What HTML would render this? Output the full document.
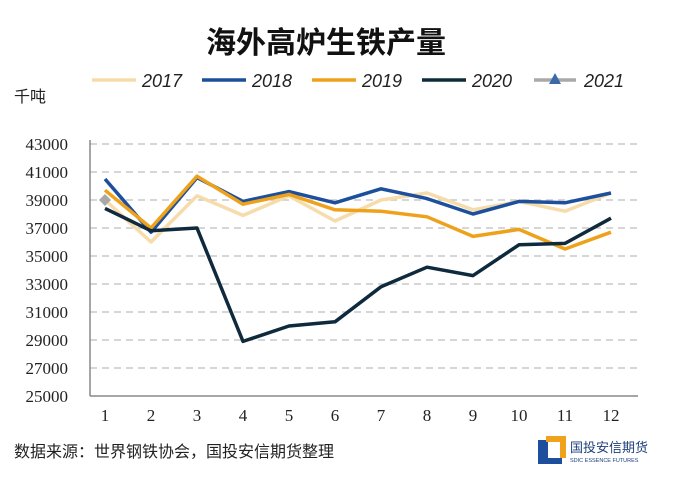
<!DOCTYPE html>
<html><head><meta charset="utf-8"><style>
body{margin:0;background:#fff;width:674px;height:479px;overflow:hidden;font-family:"Liberation Sans","Noto Sans CJK SC",sans-serif}
</style></head><body>
<svg width="674" height="479" xmlns="http://www.w3.org/2000/svg">
<text x="326" y="53" text-anchor="middle" font-size="30" font-weight="bold" font-family="Noto Sans CJK SC, sans-serif" fill="#111">海外高炉生铁产量</text>
<text x="14" y="102" font-size="16" font-family="Noto Sans CJK SC, sans-serif" fill="#222">千吨</text>
<g id="legend"></g>
<g id="grid"></g>
<g id="series"></g>
<text x="14" y="457" font-size="16" font-family="Noto Sans CJK SC, sans-serif" fill="#222">数据来源：世界钢铁协会，国投安信期货整理</text>
<g>
<path d="M538 440 h10 v18 h14 v6 h-24z" fill="#1d4f9c"/>
<path d="M546 436 h20 v22 h-6 v-16 h-14z" fill="#f0a21a"/>
<text x="570" y="452" font-size="13" font-family="Noto Sans CJK SC, sans-serif" fill="#1d3f7c">国投安信期货</text>
<text x="570" y="462" font-size="5.5" fill="#1d3f7c">SDIC ESSENCE FUTURES</text>
</g>
</svg>
<script>
const months=["1","2","3","4","5","6","7","8","9","10","11","12"];
const yTicks=[25000,27000,29000,31000,33000,35000,37000,39000,41000,43000];
const s2017=[39000,36000,39300,37900,39300,37500,39000,39500,38300,38900,38200,39500];
const s2018=[40500,36700,40600,38900,39600,38800,39800,39100,38000,38900,38800,39500];
const s2019=[39700,37000,40700,38700,39400,38300,38200,37800,36400,36900,35500,36700];
const s2020=[38400,36800,37000,28900,30000,30300,32800,34200,33600,35800,35900,37700];
const s2021=[39000];
const NS="http://www.w3.org/2000/svg";
const xs=i=>105+i*46;
const ys=v=>396-(v-25000)*0.014;
function mk(t,a,p){const e=document.createElementNS(NS,t);for(const k in a)e.setAttribute(k,a[k]);p.appendChild(e);return e;}
const grid=document.getElementById('grid');
yTicks.forEach(v=>{
  if(v>25000){const l=mk('line',{x1:90,x2:638,y1:ys(v),y2:ys(v),stroke:'#c8c8c8','stroke-width':1.5,'stroke-dasharray':'7,5'},grid);
  
  }
  const t=mk('text',{x:68,y:ys(v)+6,'text-anchor':'end','font-size':17,'font-family':'Liberation Serif, serif',fill:'#222'},grid);t.textContent=v;
  
  
});
const ya=mk('line',{x1:90,x2:90,y1:140,y2:396,stroke:'#888','stroke-width':1.5},grid);


const xa=mk('line',{x1:90,x2:638,y1:396,y2:396,stroke:'#888','stroke-width':1.5},grid);


months.forEach((m,i)=>{const t=mk('text',{x:xs(i),y:421,'text-anchor':'middle','font-size':17,'font-family':'Liberation Serif, serif',fill:'#222'},grid);t.textContent=m;
  
  });
const ser=document.getElementById('series');
const defs=[[s2017,'#f5dcaa','series-2017'],[s2018,'#1c4f9c','series-2018'],[s2019,'#eea21b','series-2019'],[s2020,'#0e2a3c','series-2020']];
defs.forEach(([d,c,n])=>{const p=mk('polyline',{points:d.map((v,i)=>xs(i)+','+ys(v)).join(' '),fill:'none',stroke:c,'stroke-width':3.5,'stroke-linejoin':'round'},ser);
  
  });
s2021.forEach((v,i)=>{const x=xs(i),y=ys(v);const p=mk('polygon',{points:`${x},${y-6} ${x+6},${y} ${x},${y+6} ${x-6},${y}`,fill:'#a8a8a8'},ser);
  
  });
const leg=document.getElementById('legend');
const L=[['2017','#f5dcaa',92],['2018','#1c4f9c',202],['2019','#eea21b',312],['2020','#0e2a3c',422]];
L.forEach(([n,c,x])=>{const g=mk('g',{},leg);
  
  
  mk('line',{x1:x,x2:x+44,y1:80,y2:80,stroke:c,'stroke-width':3.5},g);
  const t=mk('text',{x:x+50,y:87,'font-size':18,'font-style':'italic',fill:'#222'},g);t.textContent=n;});
const g21=mk('g',{},leg);


mk('line',{x1:534,x2:576,y1:80,y2:80,stroke:'#a8a8a8','stroke-width':3.5},g21);
mk('polygon',{points:'555,73 561,84 549,84',fill:'#3a6aa8'},g21);
const t21=mk('text',{x:584,y:87,'font-size':18,'font-style':'italic',fill:'#222'},g21);t21.textContent='2021';
</script>
</body></html>
